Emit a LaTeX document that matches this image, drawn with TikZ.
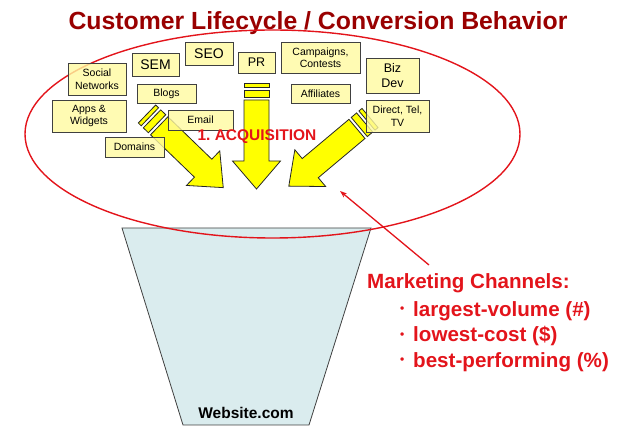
\documentclass[tikz,border=0pt]{standalone}
\usepackage{fontspec}
\setmainfont{Liberation Sans}
\usetikzlibrary{arrows.meta}
\definecolor{boxyellow}{HTML}{FFFAA0}
\definecolor{arrowyellow}{HTML}{FFFF00}
\definecolor{titlered}{HTML}{990000}
\definecolor{linered}{HTML}{E3141B}
\definecolor{funnelblue}{HTML}{DAECEE}
\newcommand{\redbullet}{\makebox[13pt][l]{\raisebox{3.5pt}{\fontsize{12}{12}\selectfont\textbullet}}}
\tikzset{
	channode/.style={
			shape=rectangle,
			draw=black!75,
			fill=boxyellow,
			fill opacity=0.8,
			text opacity=1,
			line width=0.8pt,
			inner sep=0pt,
			align=center,
			font=\fontsize{10.5}{12.5}\selectfont
		},
	bigchannode/.style={
			channode,
			font=\fontsize{14}{16}\selectfont
		},
	midchannode/.style={
			channode,
			font=\fontsize{12.5}{14.5}\selectfont
		},
	arrowpart/.style={
			draw=black!85,
			fill=arrowyellow,
			line width=0.8pt,
			line join=miter
		},
	fatarrow/.pic={
			\draw[arrowpart] (0,-12.5) rectangle (4,12.5);
			\draw[arrowpart] (7,-12.5) rectangle (14,12.5);
			\draw[arrowpart] (17,-12.5) -- (78,-12.5) -- (78,-24) -- (106,0)
				-- (78,24) -- (78,12.5) -- (17,12.5) -- cycle;
		}
}
\tikzset{
	redtext/.style={text=linered, font=\fontsize{20.6}{24}\selectfont\bfseries}
}

\begin{document}
\begin{tikzpicture}[x=1pt, y=-1pt]
			\useasboundingbox (0,0) rectangle (627,430);

			\node[text=titlered, font=\fontsize{24.8}{28}\selectfont\bfseries] (title) at (318,23) {Customer Lifecycle / Conversion Behavior};

			\draw[draw=black!75, fill=funnelblue, line width=0.8pt] (122,228) -- (371,228) -- (309,425) -- (183,425) -- cycle;
			\node[font=\fontsize{15.5}{18}\selectfont\bfseries] (site) at (246,413) {Website.com};

			\draw[linered, line width=1.4pt] (272.5,134) ellipse [x radius=247.5, y radius=104];

			\pic[rotate=-44]  at (147,114)  {fatarrow};
			\pic[rotate=-90]  at (256.5,83) {fatarrow};
			\pic[rotate=-140] at (370,118)  {fatarrow};

			\node[channode, minimum width=58, minimum height=32] (social) at (97,79) {Social\\Networks};
			\node[bigchannode, minimum width=47, minimum height=23] (sem) at (155.5,64.5) {SEM};
			\node[bigchannode, minimum width=48, minimum height=23] (seo) at (209,53.5) {SEO};
			\node[midchannode, minimum width=37, minimum height=21] (pr) at (256.5,62.5) {PR};
			\node[channode, minimum width=79, minimum height=31] (campaigns) at (320.5,57.5) {Campaigns,\\Contests};
			\node[midchannode, minimum width=53, minimum height=35] (bizdev) at (392.5,75.5) {Biz\\Dev};
			\node[channode, minimum width=63, minimum height=32] (direct) at (397.5,116) {Direct, Tel,\\TV};
			\node[channode, minimum width=59, minimum height=19] (affiliates) at (320.5,93.5) {Affiliates};
			\node[channode, minimum width=59, minimum height=19] (blogs) at (166.5,93.5) {Blogs};
			\node[channode, minimum width=74, minimum height=32] (apps) at (89,116) {Apps \&\\Widgets};
			\node[channode, minimum width=65, minimum height=20] (email) at (200.5,120) {Email};
			\node[channode, minimum width=59, minimum height=20] (domains) at (134.5,147) {Domains};

			\node[text=linered, font=\fontsize{15.5}{18}\selectfont\bfseries] (acq) at (257,137) {1.\ ACQUISITION};

			\node[redtext, anchor=base west, inner sep=0pt] (mkt) at (367,289) {Marketing Channels:};
			\node[redtext, anchor=base west, inner sep=0pt] (vol) at (400,316.5) {\redbullet largest-volume (\#)};
			\node[redtext, anchor=base west, inner sep=0pt] (cost) at (400,342) {\redbullet lowest-cost (\$)};
			\node[redtext, anchor=base west, inner sep=0pt] (perf) at (400,367.5) {\redbullet best-performing (\%)};

			\coordinate (ptrtail) at (429,265);
			\coordinate (ptrhead) at (340,191);
			\draw[linered, line width=1.3pt, -{Stealth[length=7pt, width=5pt]}] (ptrtail) -- (ptrhead);

		\end{tikzpicture}
\end{document}
